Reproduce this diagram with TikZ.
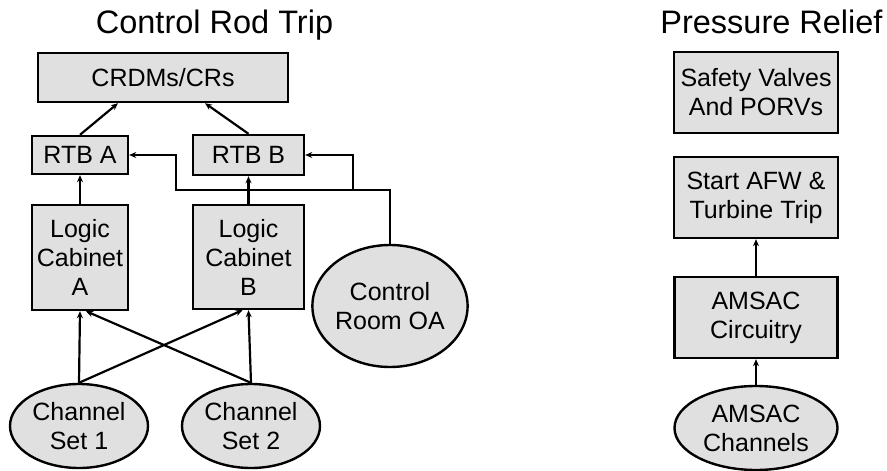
\documentclass[tikz,border=0pt]{standalone}
\usepackage{fontspec}
\setmainfont{Liberation Sans}
\usetikzlibrary{shapes.geometric,arrows.meta,calc}
\tikzset{
  box/.style={draw=black, line width=2.4pt, fill=black!12, rectangle, inner sep=0pt, align=center,
    font=\fontsize{25}{29}\selectfont},
  oval/.style={draw=black, line width=2.4pt, fill=black!12, ellipse, inner sep=0pt, align=center,
    font=\fontsize{25}{29}\selectfont},
  arr/.style={line width=2.2pt, -{Stealth[length=7pt,width=6pt]}},
  ttl/.style={font=\fontsize{32.5}{36}\selectfont, anchor=base, inner sep=0pt}
}
\begin{document}
\begin{tikzpicture}[x=1pt,y=1pt]
\useasboundingbox (0,0) rectangle (887,-471);
% titles
\node[ttl] (t1) at (214.5,-33) {Control Rod Trip};
\node[ttl] (t2) at (771.5,-33) {Pressure Relief};
% control rod trip
\node[box, minimum width=250, minimum height=49] (crd) at (163,-77.5) {CRDMs/CRs};
\node[box, minimum width=96, minimum height=38] (rtba) at (80,-155) {RTB A};
\node[box, minimum width=111, minimum height=40] (rtbb) at (248.5,-155) {RTB B};
\node[box, minimum width=96, minimum height=105] (la) at (80,-257.5) {Logic\\Cabinet\\A};
\node[box, minimum width=111, minimum height=104] (lb) at (248.5,-257) {Logic\\Cabinet\\B};
\node[oval, minimum width=125, minimum height=122] (cr) at (390,-306) {Control\\Room OA};
\node[oval, minimum width=138, minimum height=84] (ch1) at (79,-426) {Channel\\Set 1};
\node[oval, minimum width=138, minimum height=84] (ch2) at (251,-426) {Channel\\Set 2};
\draw[arr] (rtba.north) -- ($(crd.south)+(-45,0)$);
\draw[arr] (rtbb.north) -- ($(crd.south)+(42,0)$);
\draw[arr] (la.north) -- (rtba.south);
\draw[arr] (lb.north) -- (rtbb.south);
\draw[arr] (ch1.north) -- (la.south);
\draw[arr] (ch1.north) -- ($(lb.south)+(-6,0)$);
\draw[arr] (ch2.north) -- ($(la.south)+(6,0)$);
\draw[arr] (ch2.north) -- (lb.south);
\coordinate (bend) at (176,-190);
\coordinate (tee) at (353,-190);
\draw[arr] (cr.north) |- (bend) |- (rtba.east);
\draw[arr] (tee) |- (rtbb.east);
% pressure relief
\node[box, minimum width=164, minimum height=81] (sv) at (756,-92.5) {Safety Valves\\And PORVs};
\node[box, minimum width=164, minimum height=81] (afw) at (756,-197.5) {Start AFW \&\\Turbine Trip};
\node[box, minimum width=163, minimum height=81] (amc) at (756,-317.5) {AMSAC\\Circuitry};
\node[oval, minimum width=163, minimum height=84] (amch) at (756,-428) {AMSAC\\Channels};
\draw[arr] (amc.north) -- (afw.south);
\draw[arr] (amch.north) -- (amc.south);
\end{tikzpicture}
\end{document}
